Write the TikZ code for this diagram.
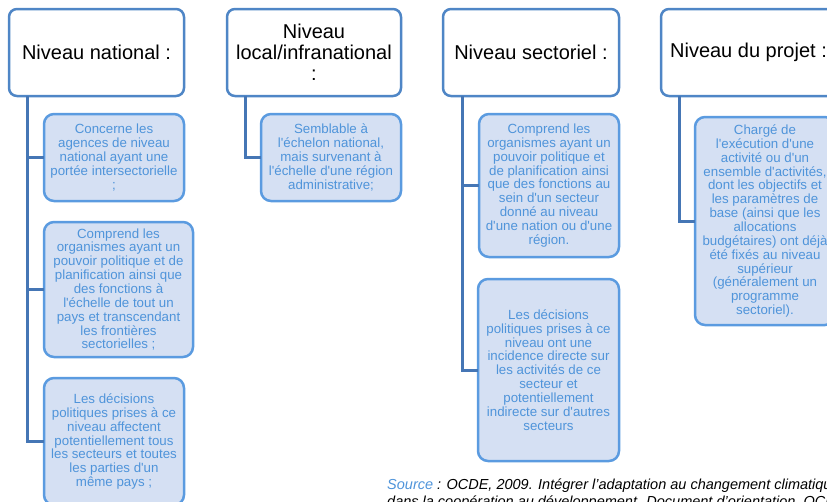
\documentclass[tikz,border=0pt]{standalone}
\usepackage{fontspec}
\setmainfont{Liberation Sans}[Ligatures=TeXOff]
\definecolor{hdrb}{HTML}{4F86C6}
\definecolor{connc}{HTML}{4576B5}
\definecolor{chb}{HTML}{5B9BE0}
\definecolor{chf}{HTML}{D5E0F3}
\definecolor{cht}{HTML}{4F94DA}
\definecolor{srcb}{HTML}{4F94DA}
\tikzset{
  hdr/.style={draw=hdrb, line width=2.5pt, rounded corners=8pt, fill=white,
    anchor=north west, inner sep=0pt, outer sep=0pt, align=center,
    font=\fontsize{20}{21}\selectfont, text=black},
  child/.style={draw=chb, line width=2.5pt, rounded corners=10pt, fill=chf,
    anchor=north west, inner sep=0pt, outer sep=0pt, align=center,
    font=\fontsize{13.3}{13.85}\selectfont, text=cht},
  conn/.style={draw=connc, line width=3pt},
}
\begin{document}
\begin{tikzpicture}[x=1pt,y=-1pt]
\useasboundingbox (0,0) rectangle (827,501);
\begin{scope}
\clip (0,0) rectangle (827,501);
% headers
\node[hdr, minimum width=175pt, minimum height=87pt] (h1) at (9,9) {Niveau national :};
\node[hdr, minimum width=174pt, minimum height=87pt] (h2) at (227,9) {Niveau\\local/infranational\\:};
\node[hdr, minimum width=176pt, minimum height=87pt] (h3) at (443,9) {Niveau sectoriel :};
\node[hdr, minimum width=175pt, minimum height=87pt] (h4) at (661,9) {Niveau du projet :};
% trunk coordinates
\coordinate (t1) at ([xshift=18pt]h1.south west);
\coordinate (t2) at ([xshift=18pt]h2.south west);
\coordinate (t3) at ([xshift=19pt]h3.south west);
\coordinate (t4) at ([xshift=18pt]h4.south west);
% children
\path
  (44,114) coordinate (p11) (44,222) coordinate (p12) (44,378) coordinate (p13)
  (261,114) coordinate (p21) (479,114) coordinate (p31) (478,279) coordinate (p32)
  (695,117) coordinate (p41);
\node[child, minimum width=140pt, minimum height=87pt] (c11) at (p11)
  {Concerne les\\agences de niveau\\national ayant une\\portée intersectorielle\\;};
\node[child, minimum width=149pt, minimum height=135pt] (c12) at (p12)
  {Comprend les\\organismes ayant un\\pouvoir politique et de\\planification ainsi que\\des fonctions à\\l'échelle de tout un\\pays et transcendant\\les frontières\\sectorielles ;};
\node[child, minimum width=140pt, minimum height=127pt] (c13) at (p13)
  {Les décisions\\politiques prises à ce\\niveau affectent\\potentiellement tous\\les secteurs et toutes\\les parties d'un\\même pays ;};
\node[child, minimum width=140pt, minimum height=87pt] (c21) at (p21)
  {Semblable à\\l'échelon national,\\mais survenant à\\l'échelle d'une région\\administrative;};
\node[child, minimum width=140pt, minimum height=143pt] (c31) at (p31)
  {Comprend les\\organismes ayant un\\pouvoir politique et\\de planification ainsi\\que des fonctions au\\sein d'un secteur\\donné au niveau\\d'une nation ou d'une\\région.};
\node[child, minimum width=141pt, minimum height=182pt] (c32) at (p32)
  {Les décisions\\politiques prises à ce\\niveau ont une\\incidence directe sur\\les activités de ce\\secteur et\\potentiellement\\indirecte sur d'autres\\secteurs};
\node[child, minimum width=140pt, minimum height=208pt] (c41) at (p41)
  {Chargé de\\l'exécution d'une\\activité ou d'un\\ensemble d'activités,\\dont les objectifs et\\les paramètres de\\base (ainsi que les\\allocations\\budgétaires) ont déjà\\été fixés au niveau\\supérieur\\(généralement un\\programme\\sectoriel).};
% connectors
\draw[conn] (t1) |- (c13.west);
\draw[conn] (t1) |- (c11.west);
\draw[conn] (t1) |- (c12.west);
\draw[conn] (t2) |- (c21.west);
\draw[conn] (t3) |- (c32.west);
\draw[conn] (t3) |- (c31.west);
\draw[conn] (t4) |- (c41.west);
% source
\node[anchor=base west, inner sep=0pt, font=\fontsize{14.5}{16}\selectfont\itshape] (src1) at (387,489)
  {\textcolor{srcb}{Source} : OCDE, 2009. Intégrer l’adaptation au changement climatique};
\node[anchor=base west, inner sep=0pt, font=\fontsize{14.5}{16}\selectfont\itshape] (src2) at (387,506)
  {dans la coopération au développement. Document d’orientation, OCDE, Paris.};
\end{scope}
\end{tikzpicture}
\end{document}
